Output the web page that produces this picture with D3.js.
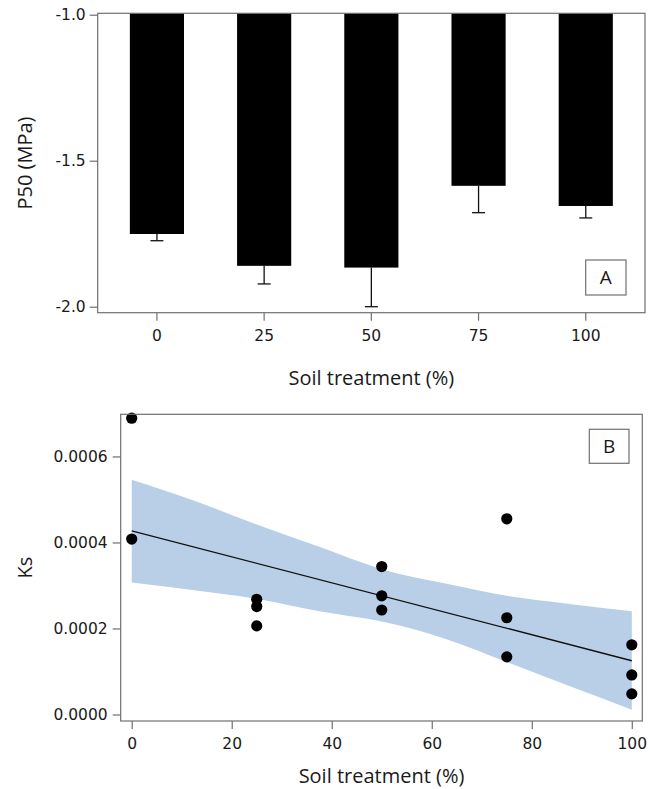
<!DOCTYPE html>
<html><head><meta charset="utf-8">
<script src="https://cdn.jsdelivr.net/npm/d3@7"></script>
<style>body{margin:0;background:#fff} svg{display:block}</style>
</head><body>
<svg id="c" width="650" height="789"></svg>
<script>
// ---- Panel A data ----
const treatments = ["0", "25", "50", "75", "100"];
const p50Mean = [-1.751, -1.860, -1.866, -1.586, -1.655];
const p50Err = [0.023, 0.062, 0.134, 0.092, 0.041];
const p50Ticks = [-1.0, -1.5, -2.0];

// ---- Panel B data ----
const ksX = [0, 0, 25, 25, 25, 50, 50, 50, 75, 75, 75, 100, 100, 100];
const ksY = [0.000689, 0.000408, 0.000268, 0.000251, 0.000206, 0.000344, 0.000276, 0.000243,
             0.000455, 0.000225, 0.000134, 0.000162, 0.000092, 0.000048];
const fitX = [0, 100];
const fitY = [0.000427, 0.000125];
const bandX = [0, 12.5, 25, 37.5, 50, 62.5, 75, 87.5, 100];
const bandUpper = [0.000546, 0.000497, 0.000442, 0.000390, 0.000338, 0.000305, 0.000276, 0.000257, 0.000240];
const bandLower = [0.000307, 0.000289, 0.000269, 0.000240, 0.000216, 0.000177, 0.000122, 0.000066, 0.000011];
const ksTicks = [0, 0.0002, 0.0004, 0.0006];
const soilTicks = [0, 20, 40, 60, 80, 100];

const svg = d3.select("#c");
const frameColor = "#707070";
const textColor = "#1a1a1a";
const tickFont = "'DejaVu Sans', sans-serif";
const titleFont = "'Open Sans', sans-serif";
const tickSize = "15.5px";
const titleSize = "20px";

function styleAxis(g) {
  g.select(".domain").remove();
  g.selectAll(".tick line").attr("stroke", frameColor).attr("stroke-width", 1.2);
  g.selectAll(".tick text").attr("fill", textColor).style("font-family", tickFont).style("font-size", tickSize);
}

// ================= Panel A =================
const A = {left: 97.7, right: 645, top: 13.3, bottom: 312.7};
const xA = d3.scaleBand().domain(treatments).range([A.left, A.right]).paddingInner(0.495).paddingOuter(0.30);
const yA = d3.scaleLinear().domain([-2.0205, -0.9952]).range([A.bottom, A.top]);

const gA = svg.append("g");
gA.selectAll("rect.bar").data(treatments).join("rect")
  .attr("class", "bar")
  .attr("x", d => xA(d))
  .attr("width", xA.bandwidth())
  .attr("y", yA(yA.domain()[1]))
  .attr("height", (d, i) => yA(p50Mean[i]) - yA(yA.domain()[1]))
  .attr("fill", "#000");
treatments.forEach((d, i) => {
  const cx = xA(d) + xA.bandwidth() / 2;
  gA.append("line").attr("x1", cx).attr("x2", cx)
    .attr("y1", yA(p50Mean[i])).attr("y2", yA(p50Mean[i] - p50Err[i]))
    .attr("stroke", "#111").attr("stroke-width", 1.3);
  gA.append("line").attr("x1", cx - 6.5).attr("x2", cx + 6.5)
    .attr("y1", yA(p50Mean[i] - p50Err[i])).attr("y2", yA(p50Mean[i] - p50Err[i]))
    .attr("stroke", "#111").attr("stroke-width", 1.3);
});
gA.append("rect").attr("x", A.left).attr("y", A.top)
  .attr("width", A.right - A.left).attr("height", A.bottom - A.top)
  .attr("fill", "none").attr("stroke", frameColor).attr("stroke-width", 1.2);
gA.append("g").attr("transform", `translate(${A.left},0)`)
  .call(d3.axisLeft(yA).tickValues(p50Ticks).tickFormat(d => d.toFixed(1)).tickSize(8).tickPadding(4))
  .call(styleAxis);
gA.append("g").attr("transform", `translate(0,${A.bottom})`)
  .call(d3.axisBottom(xA).tickSize(8).tickPadding(9))
  .call(styleAxis);
gA.append("text").attr("x", (A.left + A.right) / 2).attr("y", 385)
  .attr("text-anchor", "middle").attr("fill", textColor)
  .style("font-family", titleFont).style("font-size", titleSize).text("Soil treatment (%)");
gA.append("text").attr("transform", `translate(32,${(A.top + A.bottom) / 2}) rotate(-90)`)
  .attr("text-anchor", "middle").attr("fill", textColor)
  .style("font-family", titleFont).style("font-size", titleSize).text("P50 (MPa)");
gA.append("rect").attr("x", 585.7).attr("y", 260).attr("width", 40.3).attr("height", 35)
  .attr("fill", "#fff").attr("stroke", frameColor).attr("stroke-width", 1.2);
gA.append("text").attr("x", 605.8).attr("y", 284).attr("text-anchor", "middle").attr("fill", textColor)
  .style("font-family", titleFont).style("font-size", "19px").text("A");

// ================= Panel B =================
const B = {left: 120.7, right: 642.3, top: 414.3, bottom: 721};
const xB = d3.scaleLinear().domain([-2.2, 102.1]).range([B.left, B.right]);
const yB = d3.scaleLinear().domain([-0.0000151, 0.000698]).range([B.bottom, B.top]);

const gB = svg.append("g");
const bandData = bandX.map((x, i) => ({x, lo: bandLower[i], hi: bandUpper[i]}));
gB.append("path").datum(bandData)
  .attr("d", d3.area().x(d => xB(d.x)).y0(d => yB(d.lo)).y1(d => yB(d.hi)).curve(d3.curveMonotoneX))
  .attr("fill", "#b9cfe8");
gB.append("path").datum(fitX.map((x, i) => ({x, y: fitY[i]})))
  .attr("d", d3.line().x(d => xB(d.x)).y(d => yB(d.y)))
  .attr("fill", "none").attr("stroke", "#111").attr("stroke-width", 1.4);
gB.selectAll("circle.pt").data(ksX).join("circle")
  .attr("class", "pt")
  .attr("cx", d => xB(d)).attr("cy", (d, i) => yB(ksY[i])).attr("r", 5.6)
  .attr("fill", "#000");
gB.append("rect").attr("x", B.left).attr("y", B.top)
  .attr("width", B.right - B.left).attr("height", B.bottom - B.top)
  .attr("fill", "none").attr("stroke", frameColor).attr("stroke-width", 1.2);
gB.append("g").attr("transform", `translate(${B.left},0)`)
  .call(d3.axisLeft(yB).tickValues(ksTicks).tickFormat(d => d.toFixed(4)).tickSize(8).tickPadding(5))
  .call(styleAxis);
gB.append("g").attr("transform", `translate(0,${B.bottom})`)
  .call(d3.axisBottom(xB).tickValues(soilTicks).tickFormat(d3.format("d")).tickSize(8).tickPadding(9))
  .call(styleAxis);
gB.append("text").attr("x", (B.left + B.right) / 2).attr("y", 783)
  .attr("text-anchor", "middle").attr("fill", textColor)
  .style("font-family", titleFont).style("font-size", titleSize).text("Soil treatment (%)");
gB.append("text").attr("transform", `translate(32,${(B.top + B.bottom) / 2}) rotate(-90)`)
  .attr("text-anchor", "middle").attr("fill", textColor)
  .style("font-family", titleFont).style("font-size", titleSize).text("Ks");
gB.append("rect").attr("x", 589.3).attr("y", 429.3).attr("width", 39.7).attr("height", 34)
  .attr("fill", "#fff").attr("stroke", frameColor).attr("stroke-width", 1.2);
gB.append("text").attr("x", 609.2).attr("y", 453).attr("text-anchor", "middle").attr("fill", textColor)
  .style("font-family", titleFont).style("font-size", "19px").text("B");
</script>
</body></html>
